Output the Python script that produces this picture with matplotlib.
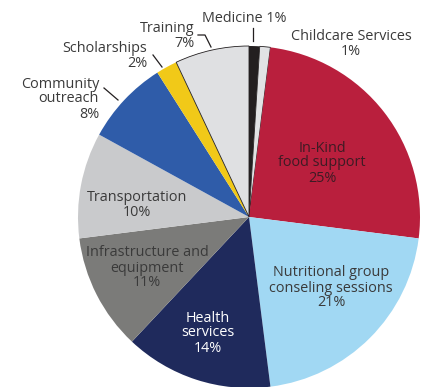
import matplotlib
matplotlib.use("Agg")
import matplotlib.pyplot as plt

# slice data, clockwise from 12 o'clock
categories = ["Medicine", "Childcare Services", "In-Kind food support",
              "Nutritional group conseling sessions", "Health services",
              "Infrastructure and equipment", "Transportation",
              "Community outreach", "Scholarships", "Training"]
shares = [1, 1, 25, 21, 14, 11, 10, 8, 2, 7]
colors = ["#231f20", "#e1e2e4", "#b91f3d", "#a1d8f3", "#1f2a5c",
          "#7b7b79", "#c9cacc", "#2f5ca9", "#f1c918", "#dfe0e2"]

plt.rcParams['font.family'] = ['Open Sans', 'DejaVu Sans']

W, H = 422, 387
fig = plt.figure(figsize=(W / 100, H / 100), dpi=100)
ax = fig.add_axes([0, 0, 1, 1])

cx, cy, r = 249, H - 217, 171
wedges, _ = ax.pie(shares, colors=colors, startangle=90, counterclock=False,
                   center=(cx, cy), radius=r, frame=True,
                   wedgeprops=dict(linewidth=0))
# thin outlines on the pale slices
for i in (1, 9):
    wedges[i].set_edgecolor("#231f20")
    wedges[i].set_linewidth(0.6)

ax.set_xlim(0, W)
ax.set_ylim(0, H)
ax.set_aspect("equal")
ax.axis("off")

txt = "#3a3a3a"
fs = 10.4
ls = 1.0
# labels inside the pie
ax.text(322, H - 163, "In-Kind\nfood support\n25%", color="#3d1b24", fontsize=fs,
        ha="center", va="center", linespacing=ls)
ax.text(331, H - 288, "Nutritional group\nconseling sessions\n21%", color=txt,
        fontsize=fs, ha="center", va="center", linespacing=ls)
ax.text(208, H - 333, "Health\nservices\n14%", color="white", fontsize=fs,
        ha="center", va="center", linespacing=ls)
ax.text(147, H - 268, "Infrastructure and\nequipment\n11%", color=txt,
        fontsize=fs, ha="center", va="center", linespacing=ls)
ax.text(137, H - 205, "Transportation\n10%", color=txt, fontsize=fs,
        ha="center", va="center", linespacing=ls)

# labels outside the pie
ax.text(99, H - 99, "Community\noutreach\n8%", color=txt, fontsize=fs,
        ha="right", va="center", linespacing=ls)
ax.text(147, H - 56, "Scholarships\n2%", color=txt, fontsize=fs,
        ha="right", va="center", linespacing=ls)
ax.text(195, H - 36, "Training\n7%", color=txt, fontsize=fs,
        ha="right", va="center", linespacing=ls)
ax.text(244, H - 18, "Medicine 1%", color=txt, fontsize=fs,
        ha="center", va="center")
ax.text(351, H - 44, "Childcare Services\n1%", color=txt, fontsize=fs,
        ha="center", va="center", linespacing=ls)

# leader lines
lc = dict(color="#231f20", linewidth=0.9)
ax.plot([104, 118], [H - 88, H - 100], **lc)
ax.plot([153, 162], [H - 55, H - 67], **lc)
ax.plot([198, 205, 211], [H - 35, H - 35, H - 47], **lc)
ax.plot([253, 253], [H - 28, H - 41], **lc)

fig.savefig("out.png", dpi=100)
